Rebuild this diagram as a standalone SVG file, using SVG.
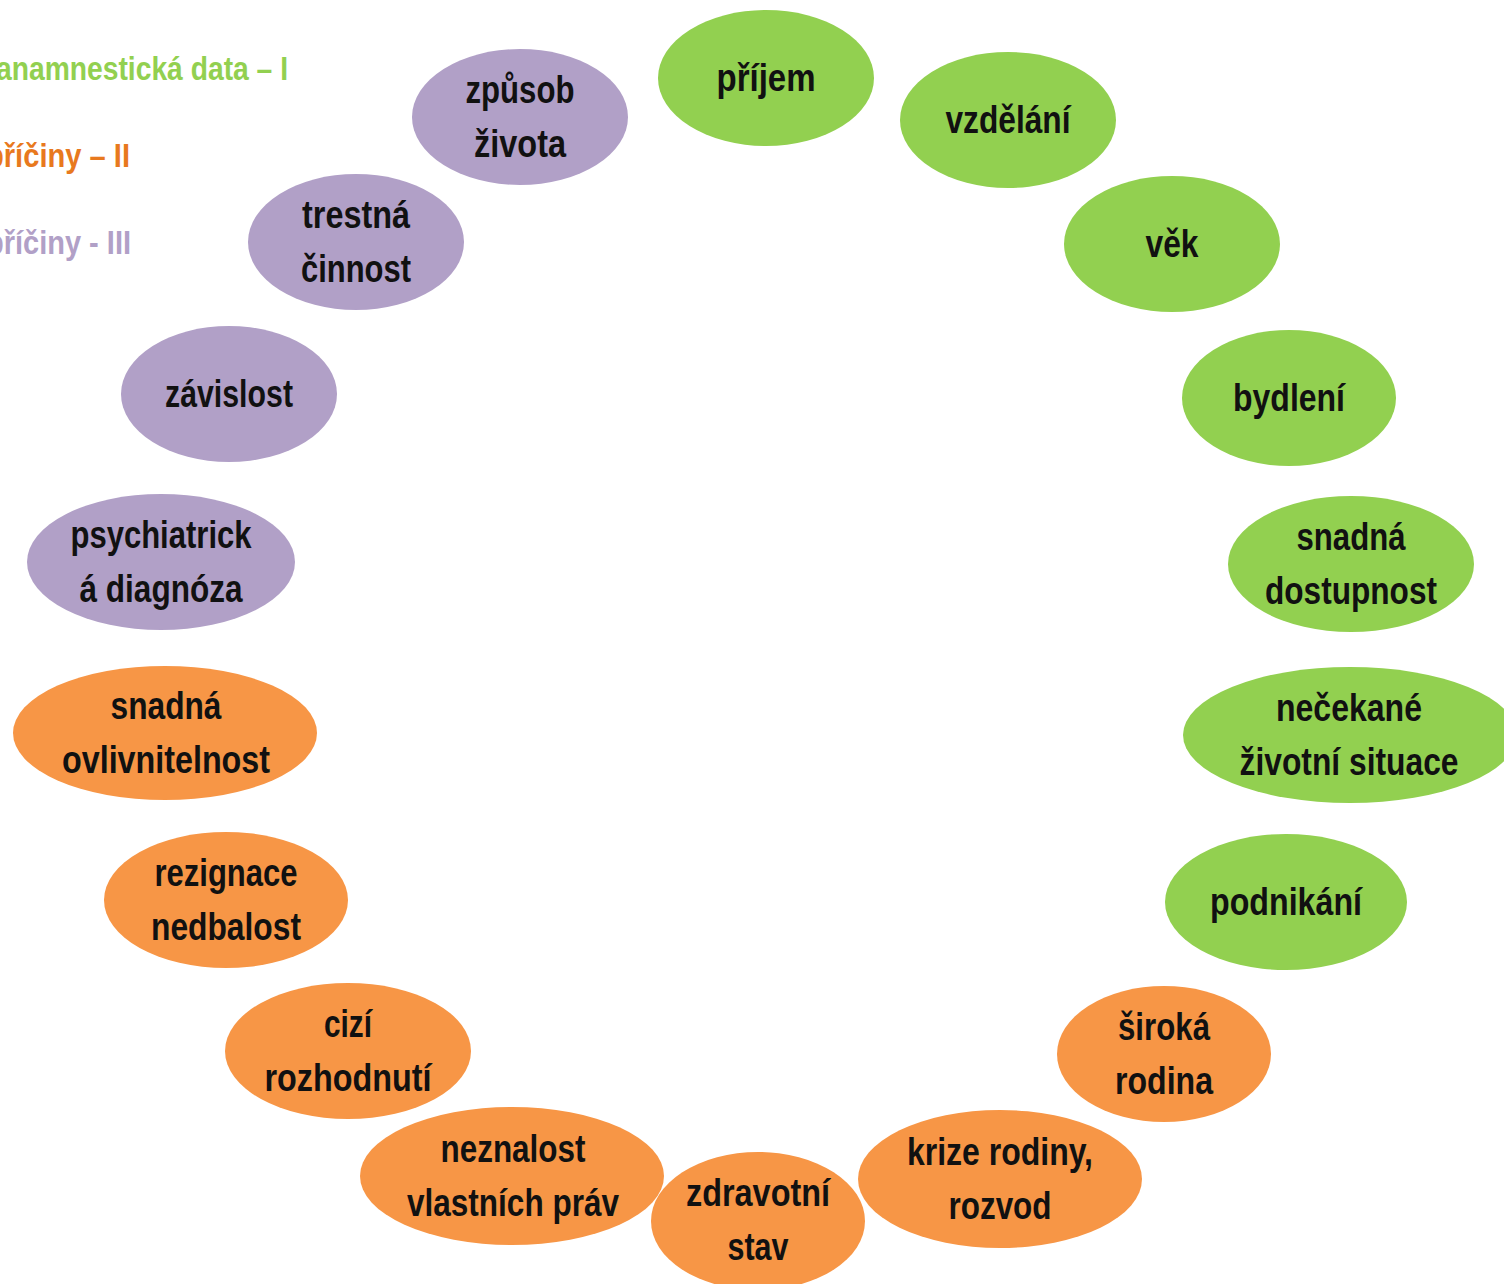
<svg xmlns="http://www.w3.org/2000/svg" width="1504" height="1284" viewBox="0 0 1504 1284">
<style>
.g{fill:#92D050}
.o{fill:#F79646}
.p{fill:#B1A0C7}
text{font-family:"Liberation Sans",Arial,sans-serif;font-weight:bold;font-size:38px;fill:#111;text-anchor:middle}
.lg{font-size:34px;text-anchor:start}
</style>
<rect width="1504" height="1284" fill="#fff"/>
<g id="legend">
<text class="lg" x="-4" y="80" textLength="292" lengthAdjust="spacingAndGlyphs" style="fill:#92D050">anamnestická data – I</text>
<text class="lg" x="-14" y="167" textLength="144" lengthAdjust="spacingAndGlyphs" style="fill:#E8791E">příčiny – II</text>
<text class="lg" x="-14" y="254" textLength="145" lengthAdjust="spacingAndGlyphs" style="fill:#B1A0C7">příčiny - III</text>
</g>
<g id="connectors"></g>
<g id="n-prijem"><ellipse class="g" cx="766" cy="78" rx="108" ry="68"/><text x="766" y="91" textLength="99" lengthAdjust="spacingAndGlyphs">příjem</text></g>
<g id="n-vzdelani"><ellipse class="g" cx="1008" cy="120" rx="108" ry="68"/><text x="1008" y="133" textLength="125" lengthAdjust="spacingAndGlyphs">vzdělání</text></g>
<g id="n-vek"><ellipse class="g" cx="1172" cy="244" rx="108" ry="68"/><text x="1172" y="257" textLength="53" lengthAdjust="spacingAndGlyphs">věk</text></g>
<g id="n-bydleni"><ellipse class="g" cx="1289" cy="398" rx="107" ry="68"/><text x="1289" y="411" textLength="112" lengthAdjust="spacingAndGlyphs">bydlení</text></g>
<g id="n-dostupnost"><ellipse class="g" cx="1351" cy="564" rx="123" ry="68"/><text x="1351" y="550" textLength="109" lengthAdjust="spacingAndGlyphs">snadná</text><text x="1351" y="604" textLength="172" lengthAdjust="spacingAndGlyphs">dostupnost</text></g>
<g id="n-situace"><ellipse class="g" cx="1350" cy="735" rx="167" ry="68"/><text x="1349" y="721" textLength="146" lengthAdjust="spacingAndGlyphs">nečekané</text><text x="1349" y="775" textLength="219" lengthAdjust="spacingAndGlyphs">životní situace</text></g>
<g id="n-podnikani"><ellipse class="g" cx="1286" cy="902" rx="121" ry="68"/><text x="1286" y="915" textLength="152" lengthAdjust="spacingAndGlyphs">podnikání</text></g>
<g id="n-rodina"><ellipse class="o" cx="1164" cy="1054" rx="107" ry="68"/><text x="1164" y="1040" textLength="92" lengthAdjust="spacingAndGlyphs">široká</text><text x="1164" y="1094" textLength="98" lengthAdjust="spacingAndGlyphs">rodina</text></g>
<g id="n-krize"><ellipse class="o" cx="1000" cy="1179" rx="142" ry="69"/><text x="1000" y="1165" textLength="186" lengthAdjust="spacingAndGlyphs">krize rodiny,</text><text x="1000" y="1219" textLength="103" lengthAdjust="spacingAndGlyphs">rozvod</text></g>
<g id="n-zdravi"><ellipse class="o" cx="758" cy="1221" rx="107" ry="69"/><text x="758" y="1206" textLength="144" lengthAdjust="spacingAndGlyphs">zdravotní</text><text x="758" y="1260" textLength="61" lengthAdjust="spacingAndGlyphs">stav</text></g>
<g id="n-neznalost"><ellipse class="o" cx="512" cy="1176" rx="152" ry="69"/><text x="513" y="1162" textLength="145" lengthAdjust="spacingAndGlyphs">neznalost</text><text x="513" y="1216" textLength="212" lengthAdjust="spacingAndGlyphs">vlastních práv</text></g>
<g id="n-cizi"><ellipse class="o" cx="348" cy="1051" rx="123" ry="68"/><text x="348" y="1037" textLength="48" lengthAdjust="spacingAndGlyphs">cizí</text><text x="348" y="1091" textLength="167" lengthAdjust="spacingAndGlyphs">rozhodnutí</text></g>
<g id="n-rezignace"><ellipse class="o" cx="226" cy="900" rx="122" ry="68"/><text x="226" y="886" textLength="143" lengthAdjust="spacingAndGlyphs">rezignace</text><text x="226" y="940" textLength="150" lengthAdjust="spacingAndGlyphs">nedbalost</text></g>
<g id="n-ovlivnitelnost"><ellipse class="o" cx="165" cy="733" rx="152" ry="67"/><text x="166" y="719" textLength="111" lengthAdjust="spacingAndGlyphs">snadná</text><text x="166" y="773" textLength="208" lengthAdjust="spacingAndGlyphs">ovlivnitelnost</text></g>
<g id="n-psychiatricka"><ellipse class="p" cx="161" cy="562" rx="134" ry="68"/><text x="161" y="548" textLength="181" lengthAdjust="spacingAndGlyphs">psychiatrick</text><text x="161" y="602" textLength="163" lengthAdjust="spacingAndGlyphs">á diagnóza</text></g>
<g id="n-zavislost"><ellipse class="p" cx="229" cy="394" rx="108" ry="68"/><text x="229" y="407" textLength="128" lengthAdjust="spacingAndGlyphs">závislost</text></g>
<g id="n-trestna"><ellipse class="p" cx="356" cy="242" rx="108" ry="68"/><text x="356" y="228" textLength="108" lengthAdjust="spacingAndGlyphs">trestná</text><text x="356" y="282" textLength="110" lengthAdjust="spacingAndGlyphs">činnost</text></g>
<g id="n-zpusob"><ellipse class="p" cx="520" cy="117" rx="108" ry="68"/><text x="520" y="103" textLength="109" lengthAdjust="spacingAndGlyphs">způsob</text><text x="520" y="157" textLength="92" lengthAdjust="spacingAndGlyphs">života</text></g>
</svg>
